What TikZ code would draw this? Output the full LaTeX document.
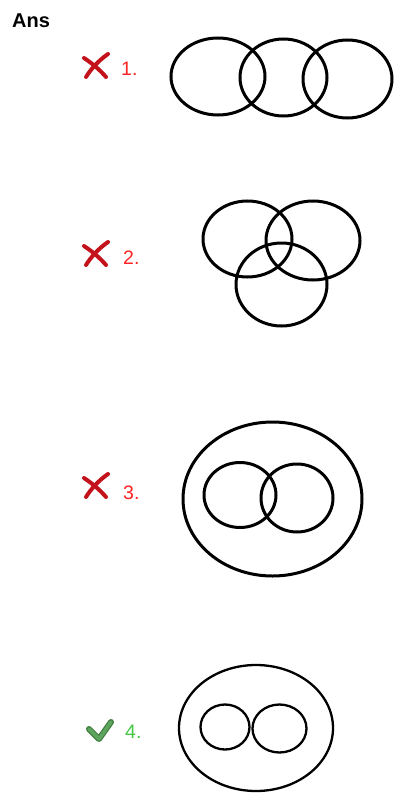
\documentclass[tikz,border=0pt]{standalone}
\usepackage{fontspec}
\setmainfont{Liberation Sans}
\definecolor{lblred}{HTML}{FF2424}
\definecolor{lblgreen}{HTML}{46C846}
\definecolor{xred}{HTML}{C4121C}
\definecolor{ckgreen}{HTML}{5DA45D}
\definecolor{ckdark}{HTML}{3F7F3F}
\begin{document}
\begin{tikzpicture}[x=1pt,y=-1pt,
  ring/.style={draw=black,line width=3pt},
  thinring/.style={draw=black,line width=2.3pt},
  lbl/.style={anchor=base west,inner sep=0pt,font=\fontsize{19.5}{21}\selectfont},
  xstroke/.style={draw=xred,line width=4pt,line cap=round},
]
\useasboundingbox[fill=white] (0,0) rectangle (396,797);
\node[anchor=base west,inner sep=0pt,font=\fontsize{20}{21}\selectfont\bfseries] (ans) at (12,27.5) {Ans};

% icons
\foreach \n/\cy in {a/66,b/254,c/486}{
  \draw[xstroke] (84,\cy-8) .. controls (93,\cy-2) and (100,\cy+4) .. (106,\cy+11);
  \draw[xstroke] (108,\cy-12) .. controls (98,\cy-5) and (91,\cy+3) .. (86,\cy+11);
}
\draw[ckdark,line width=6pt,line cap=round,line join=round] (89,729) -- (99,739) -- (111,722);
\draw[ckgreen,line width=3.6pt,line cap=round,line join=round] (89,729) -- (99,739) -- (111,722);

% labels
\node[lbl,text=lblred] (l1) at (121,75.5) {1.};
\node[lbl,text=lblred] (l2) at (123,264.5) {2.};
\node[lbl,text=lblred] (l3) at (123,499) {3.};
\node[lbl,text=lblgreen] (l4) at (125,738.5) {4.};

% figure 1
\draw[ring] (218,76.5) ellipse [x radius=47,y radius=38.5];
\draw[ring] (283.5,77.5) ellipse [x radius=43.5,y radius=38.5];
\draw[ring] (347.5,79) ellipse [x radius=44.5,y radius=39];

% figure 2
\draw[ring] (247.5,239) ellipse [x radius=44.5,y radius=38];
\draw[ring] (313,240.5) ellipse [x radius=47,y radius=39.5];
\draw[ring] (281.5,284.5) ellipse [x radius=45.5,y radius=41.5];

% figure 3
\draw[ring] (272.5,499) ellipse [x radius=89.5,y radius=77];
\draw[ring] (240,495) ellipse [x radius=36,y radius=32.5];
\draw[ring] (297,498) ellipse [x radius=36,y radius=34];

% figure 4
\draw[thinring] (256,728) ellipse [x radius=77,y radius=63];
\draw[thinring] (225,727) ellipse [x radius=24.5,y radius=22.5];
\draw[thinring] (279.5,728.5) ellipse [x radius=27,y radius=24];
\end{tikzpicture}
\end{document}
